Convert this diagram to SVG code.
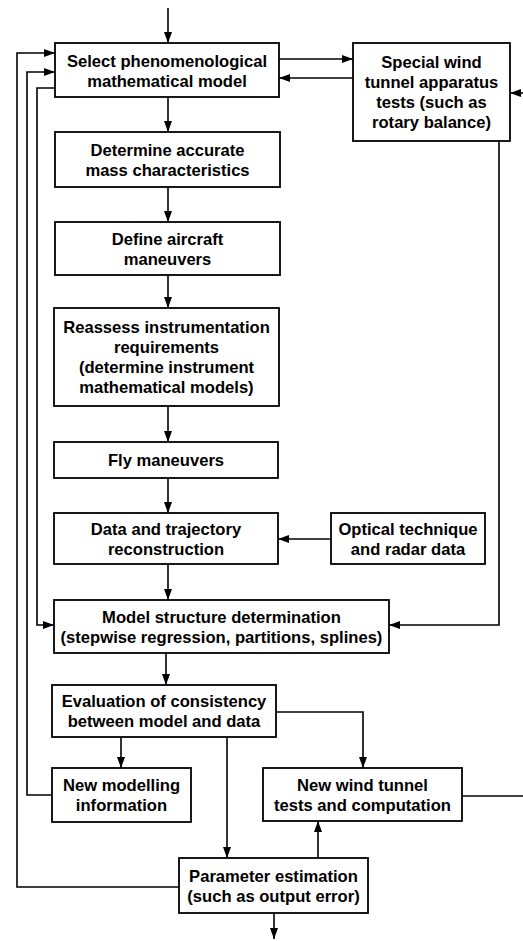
<svg xmlns="http://www.w3.org/2000/svg" width="523" height="941" viewBox="0 0 523 941">
<defs>
<marker id="ah" markerUnits="userSpaceOnUse" markerWidth="11" markerHeight="8" refX="11" refY="4" orient="auto">
<path d="M0,0 L11,4 L0,8 z" fill="#000"/>
</marker>
<style>
.box{fill:#fff;stroke:#000;stroke-width:1.8}
.t{font-family:"Liberation Sans",Arial,sans-serif;font-weight:bold;font-size:16.6px;text-anchor:middle;fill:#000}
.c{fill:none;stroke:#000;stroke-width:1.6}
.a{fill:none;stroke:#000;stroke-width:1.6;marker-end:url(#ah)}
</style>
</defs>
<rect width="523" height="941" fill="#fff"/>
<g id="connectors">
<path class="a" d="M168,8 V43"/>
<path class="a" d="M168,97 V132"/>
<path class="a" d="M168,187 V222"/>
<path class="a" d="M168,275 V308"/>
<path class="a" d="M168,406 V442"/>
<path class="a" d="M168,478 V513"/>
<path class="a" d="M168,564 V600"/>
<path class="a" d="M166,653 V685"/>
<path class="a" d="M279,59 H353"/>
<path class="a" d="M353,78 H279"/>
<path class="a" d="M523,93 H510"/>
<path class="a" d="M499,141 V625 H389"/>
<path class="a" d="M331,539 H278"/>
<path class="a" d="M55,88 H37 V625 H54"/>
<path class="a" d="M52,795 H27 V72 H55"/>
<path class="a" d="M179,887 H17 V53 H55"/>
<path class="a" d="M121,737 V768"/>
<path class="a" d="M227,737 V858"/>
<path class="a" d="M276,712 H363 V768"/>
<path class="a" d="M318,858 V821"/>
<path class="c" d="M462,796 H523"/>
<path class="a" d="M274,913 V939"/>
</g>
<g id="select">
<rect class="box" x="55" y="43" width="224" height="54"/>
<text class="t" x="167" y="67">Select phenomenological</text>
<text class="t" x="167" y="87">mathematical model</text>
</g>
<g id="special">
<rect class="box" x="353" y="43" width="157" height="98"/>
<text class="t" x="431.5" y="68">Special wind</text>
<text class="t" x="431.5" y="88">tunnel apparatus</text>
<text class="t" x="431.5" y="108">tests (such as</text>
<text class="t" x="431.5" y="128">rotary balance)</text>
</g>
<g id="determine">
<rect class="box" x="55" y="132" width="225" height="55"/>
<text class="t" x="167.5" y="155.5">Determine accurate</text>
<text class="t" x="167.5" y="175.5">mass characteristics</text>
</g>
<g id="define">
<rect class="box" x="55" y="222" width="225" height="53"/>
<text class="t" x="167.5" y="244.5">Define aircraft</text>
<text class="t" x="167.5" y="264.5">maneuvers</text>
</g>
<g id="reassess">
<rect class="box" x="54" y="308" width="225" height="98"/>
<text class="t" x="166.5" y="333">Reassess instrumentation</text>
<text class="t" x="166.5" y="353">requirements</text>
<text class="t" x="166.5" y="373">(determine instrument</text>
<text class="t" x="166.5" y="393">mathematical models)</text>
</g>
<g id="fly">
<rect class="box" x="54" y="442" width="224" height="36"/>
<text class="t" x="166" y="466">Fly maneuvers</text>
</g>
<g id="data">
<rect class="box" x="54" y="513" width="224" height="51"/>
<text class="t" x="166" y="534.5">Data and trajectory</text>
<text class="t" x="166" y="554.5">reconstruction</text>
</g>
<g id="optical">
<rect class="box" x="331" y="513" width="154" height="51"/>
<text class="t" x="408" y="534.5">Optical technique</text>
<text class="t" x="408" y="554.5">and radar data</text>
</g>
<g id="model">
<rect class="box" x="54" y="600" width="335" height="53"/>
<text class="t" x="221.5" y="622.5">Model structure determination</text>
<text class="t" x="221.5" y="642.5">(stepwise regression, partitions, splines)</text>
</g>
<g id="evaluation">
<rect class="box" x="52" y="685" width="224" height="52"/>
<text class="t" x="164" y="707">Evaluation of consistency</text>
<text class="t" x="164" y="727">between model and data</text>
</g>
<g id="newmodelling">
<rect class="box" x="52" y="768" width="139" height="54"/>
<text class="t" x="121.5" y="791">New modelling</text>
<text class="t" x="121.5" y="811">information</text>
</g>
<g id="newwind">
<rect class="box" x="263" y="768" width="199" height="53"/>
<text class="t" x="362.5" y="791">New wind tunnel</text>
<text class="t" x="362.5" y="811">tests and computation</text>
</g>
<g id="parameter">
<rect class="box" x="179" y="858" width="189" height="55"/>
<text class="t" x="273.5" y="881.5">Parameter estimation</text>
<text class="t" x="273.5" y="901.5">(such as output error)</text>
</g>
</svg>
